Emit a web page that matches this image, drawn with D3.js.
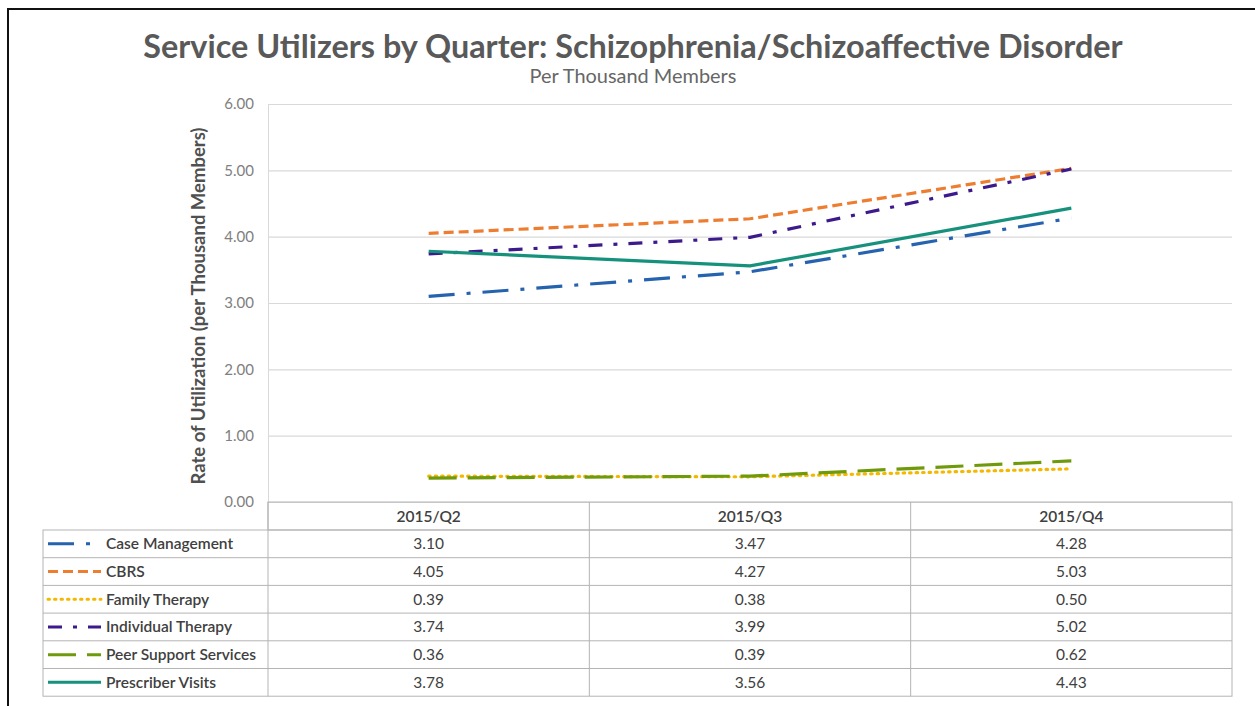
<!DOCTYPE html>
<html>
<head>
<meta charset="utf-8">
<script src="https://cdn.jsdelivr.net/npm/d3@7"></script>
<style>
  body { margin: 0; background: #fff; }
  svg { display: block; font-family: Lato, "Open Sans", sans-serif; }
</style>
</head>
<body>
<div id="chart"></div>
<script>
// data
const quarters = ["2015/Q2", "2015/Q3", "2015/Q4"];
const seriesNames = ["Case Management", "CBRS", "Family Therapy", "Individual Therapy", "Peer Support Services", "Prescriber Visits"];
const caseManagement = [3.10, 3.47, 4.28];
const cbrs = [4.05, 4.27, 5.03];
const familyTherapy = [0.39, 0.38, 0.50];
const individualTherapy = [3.74, 3.99, 5.02];
const peerSupport = [0.36, 0.39, 0.62];
const prescriberVisits = [3.78, 3.56, 4.43];
const yTicks = [0, 1, 2, 3, 4, 5, 6];

const seriesValues = [caseManagement, cbrs, familyTherapy, individualTherapy, peerSupport, prescriberVisits];

// line looks, same order as seriesNames
const styles = [
  { color: "#2563ae", dash: "26,12,4,12", cap: "butt" },
  { color: "#ed7d31", dash: "10,5", cap: "butt" },
  { color: "#f5b800", dash: "1.5,5", cap: "round" },
  { color: "#3c1a8c", dash: "14,11,4,11", cap: "butt" },
  { color: "#6f9a0c", dash: "28,11", cap: "butt" },
  { color: "#16917c", dash: null, cap: "butt" }
];

const width = 1255, height = 706;
const plot = { left: 268, right: 1232, top: 104, bottom: 502 };
const table = { left: 43, headerBottom: 530, rowH: 27.7 };
const tableFont = 15.5;

const svg = d3.select("#chart")
  .append("svg")
  .attr("width", width)
  .attr("height", height);

// outer frame (runs off the right and bottom edges)
svg.append("path")
  .attr("d", `M8,${height + 5} L8,9 L${width + 5},9`)
  .attr("fill", "none")
  .attr("stroke", "#111")
  .attr("stroke-width", 2);

const x = d3.scaleBand().domain(quarters).range([plot.left, plot.right]);
const y = d3.scaleLinear().domain([0, 6]).range([plot.bottom, plot.top]);

// title + subtitle
function fitText(sel, w) {
  const len = sel.node().getComputedTextLength();
  const fs = parseFloat(sel.attr("font-size"));
  sel.attr("font-size", fs * w / len);
}

const title = svg.append("text")
  .attr("x", 633).attr("y", 58)
  .attr("text-anchor", "middle")
  .attr("font-size", 29)
  .attr("font-weight", 700)
  .attr("fill", "#595959")
  .text("Service Utilizers by Quarter: Schizophrenia/Schizoaffective Disorder");
fitText(title, 980);

const sub = svg.append("text")
  .attr("x", 633).attr("y", 83)
  .attr("text-anchor", "middle")
  .attr("font-size", 15)
  .attr("fill", "#666")
  .text("Per Thousand Members");
fitText(sub, 207);

// gridlines + y axis
const yAxis = d3.axisLeft(y)
  .tickValues(yTicks)
  .tickSize(plot.left - plot.right)
  .tickPadding(14)
  .tickFormat(d3.format(".2f"));

const ga = svg.append("g")
  .attr("transform", `translate(${plot.left},0)`)
  .call(yAxis);
ga.select(".domain").attr("stroke", "#d9d9d9");
ga.selectAll(".tick line").attr("stroke", "#d9d9d9").attr("stroke-width", 1.2);
ga.selectAll(".tick text")
  .attr("fill", "#808080")
  .attr("font-size", 15)
  .attr("font-family", "Lato, 'Open Sans', sans-serif");

const ylab = svg.append("text")
  .attr("transform", `translate(205,${(plot.top + plot.bottom) / 2 + 3}) rotate(-90)`)
  .attr("text-anchor", "middle")
  .attr("font-size", 14)
  .attr("font-weight", 700)
  .attr("fill", "#505050")
  .text("Rate of Utilization (per Thousand Members)");
fitText(ylab, 357);

// lines
const line = d3.line()
  .x((d, i) => x(quarters[i]) + x.bandwidth() / 2)
  .y(d => y(d));

svg.append("g")
  .selectAll("path")
  .data(seriesValues)
  .join("path")
  .attr("d", line)
  .attr("fill", "none")
  .attr("stroke", (d, i) => styles[i].color)
  .attr("stroke-width", 3.2)
  .attr("stroke-linecap", (d, i) => styles[i].cap)
  .attr("stroke-linejoin", "round")
  .attr("stroke-dasharray", (d, i) => styles[i].dash);

// data table
const grid = "#b4b4b4";
const tg = svg.append("g");
const rowY = i => table.headerBottom + i * table.rowH;
const tableBottom = rowY(seriesNames.length);

// header cells
tg.append("rect")
  .attr("x", plot.left).attr("y", plot.bottom)
  .attr("width", plot.right - plot.left).attr("height", table.headerBottom - plot.bottom)
  .attr("fill", "none").attr("stroke", grid);
// body
tg.append("rect")
  .attr("x", table.left).attr("y", table.headerBottom)
  .attr("width", plot.right - table.left).attr("height", tableBottom - table.headerBottom)
  .attr("fill", "none").attr("stroke", grid);

tg.selectAll(".hrow")
  .data(d3.range(1, seriesNames.length))
  .join("line")
  .attr("x1", table.left).attr("x2", plot.right)
  .attr("y1", d => rowY(d)).attr("y2", d => rowY(d))
  .attr("stroke", grid);

tg.selectAll(".vcol")
  .data(quarters)
  .join("line")
  .attr("x1", d => x(d)).attr("x2", d => x(d))
  .attr("y1", plot.bottom).attr("y2", tableBottom)
  .attr("stroke", grid);

tg.selectAll(".qlab")
  .data(quarters)
  .join("text")
  .attr("x", d => x(d) + x.bandwidth() / 2)
  .attr("y", (plot.bottom + table.headerBottom) / 2 + 5.5)
  .attr("text-anchor", "middle")
  .attr("font-size", tableFont)
  .attr("font-weight", 600)
  .attr("fill", "#404040")
  .text(d => d);

const rows = tg.selectAll(".row")
  .data(seriesNames)
  .join("g")
  .attr("transform", (d, i) => `translate(0,${rowY(i) + table.rowH / 2})`);

rows.append("line")
  .attr("x1", 48).attr("x2", 101)
  .attr("stroke", (d, i) => styles[i].color)
  .attr("stroke-width", 3)
  .attr("stroke-linecap", (d, i) => styles[i].cap)
  .attr("stroke-dasharray", (d, i) => styles[i].dash);

rows.append("text")
  .attr("x", 106).attr("y", 5.5)
  .attr("font-size", tableFont)
  .attr("font-weight", 600)
  .attr("fill", "#404040")
  .text(d => d);

rows.each(function (name, i) {
  d3.select(this).selectAll(".val")
    .data(seriesValues[i])
    .join("text")
    .attr("x", (v, j) => x(quarters[j]) + x.bandwidth() / 2)
    .attr("y", 5.5)
    .attr("text-anchor", "middle")
    .attr("font-size", tableFont)
    .attr("fill", "#404040")
    .text(v => d3.format(".2f")(v));
});
</script>
</body>
</html>
